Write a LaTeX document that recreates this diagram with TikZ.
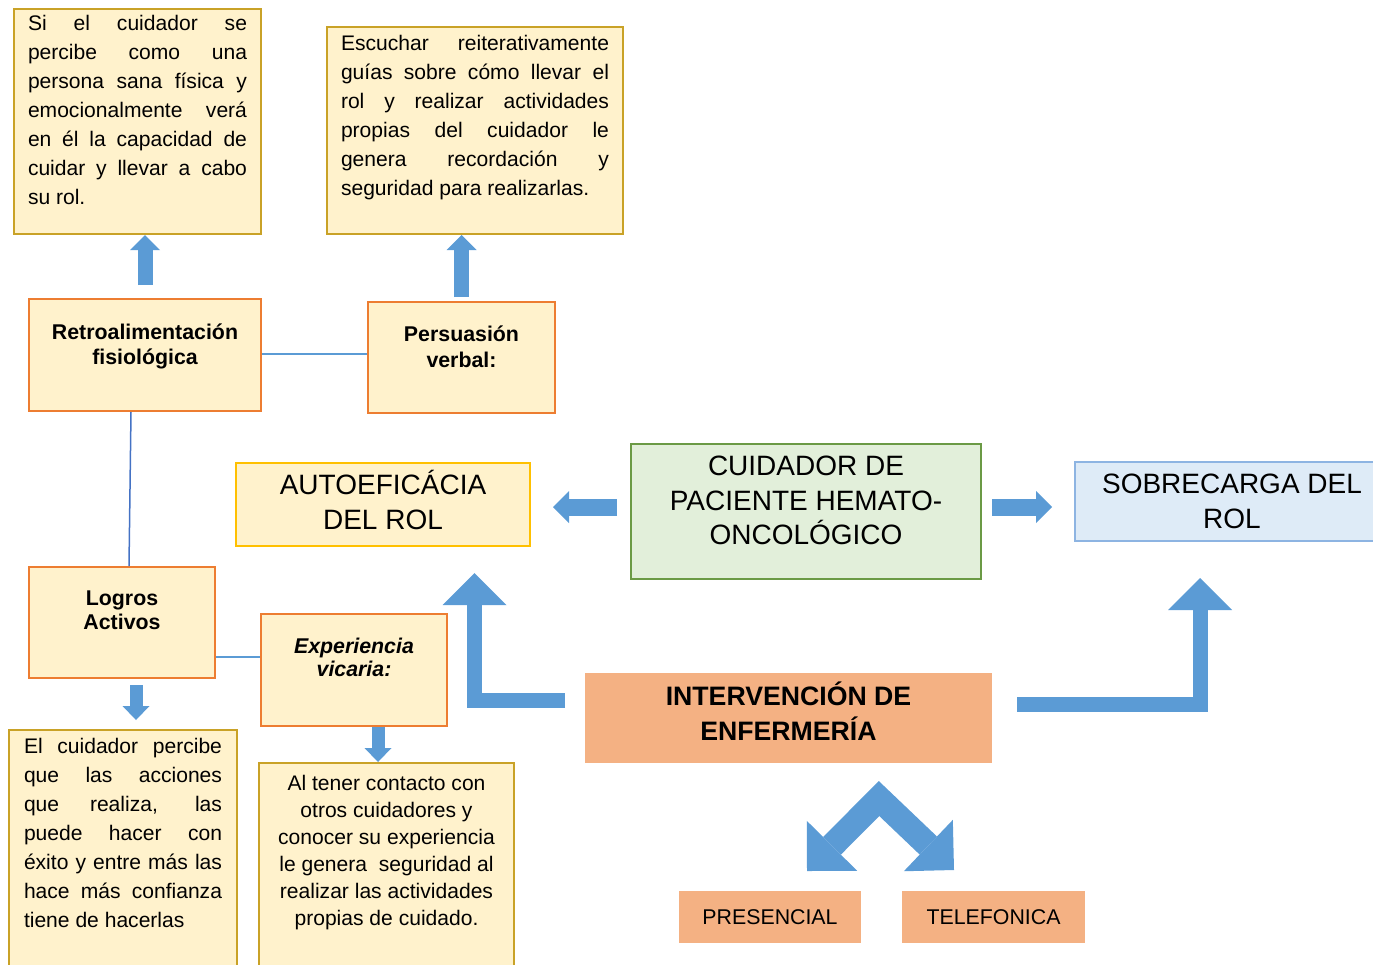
\documentclass[tikz,border=0pt]{standalone}
\usepackage{fontspec}
\setmainfont{Liberation Sans}
\usetikzlibrary{arrows.meta}

\newdimen\pxu \pxu=0.75pt
\hyphenpenalty=10000
\exhyphenpenalty=10000
\hbadness=10000

\definecolor{fondoamarillo}{HTML}{FFF2CC}
\definecolor{bordedorado}{HTML}{C9A227}
\definecolor{bordenaranja}{HTML}{ED7D31}
\definecolor{bordeamarillo}{HTML}{FFC000}
\definecolor{fondoverde}{HTML}{E2EFDA}
\definecolor{bordeverde}{HTML}{6B9A45}
\definecolor{fondoazul}{HTML}{DEEBF7}
\definecolor{bordeazul}{HTML}{8DB4E2}
\definecolor{fondonaranja}{HTML}{F4B183}
\definecolor{flechaazul}{HTML}{5B9BD5}
\definecolor{lineaazul}{HTML}{4472C4}

\newcommand{\caja}[3]{\parbox[t][#2\pxu][t]{#1\pxu}{#3}}
\newcommand{\alto}{\rule{0pt}{30\pxu}}

\tikzset{
  cuadro/.style={anchor=north west, inner sep=0pt, line width=2\pxu, fill=fondoamarillo},
  texto/.style={cuadro, draw=bordedorado, font=\fontsize{15.8}{21.75}\selectfont},
  concepto/.style={cuadro, draw=bordenaranja, font=\bfseries\fontsize{16}{18.75}\selectfont},
  titulo/.style={inner sep=0pt, line width=2\pxu, align=center, font=\fontsize{21}{26.25}\selectfont},
  modalidad/.style={inner sep=0pt, fill=fondonaranja, minimum height=52\pxu, font=\fontsize{16}{19}\selectfont},
  linea/.style={draw=flechaazul, line width=2\pxu},
  flechita/.style={draw=flechaazul, line width=11.25pt, -{Triangle[width=22.5pt, length=11.25pt, line width=0pt]}},
  flechabaja/.style={draw=flechaazul, line width=9.75pt, -{Triangle[width=20.25pt, length=10.5pt, line width=0pt]}},
  flechalado/.style={draw=flechaazul, line width=12.75pt, -{Triangle[width=24pt, length=12pt, line width=0pt]}},
  flechacodo/.style={draw=flechaazul, line width=11.25pt, line join=miter, -{Triangle[width=48pt, length=24pt, line width=0pt]}},
  flechadoble/.style={draw=flechaazul, line width=18.75pt, line join=miter,
    {Triangle[width=53.25pt, length=26.6pt, line width=0pt]}-{Triangle[width=53.25pt, length=26.6pt, line width=0pt]}}
}

\begin{document}
\begin{tikzpicture}[x=0.75pt, y=-0.75pt]
  \useasboundingbox (0,0) rectangle (1373,964);

  % fuentes de autoeficacia
  \node[texto, inner xsep=14\pxu, inner ysep=6\pxu] (percepcion) at (13,8) {\caja{219}{213}{%
    Si el cuidador se\linebreak percibe como una\linebreak persona sana física y\linebreak
    emocionalmente verá\linebreak en él la capacidad de\linebreak cuidar y llevar a cabo\linebreak su rol.}};
  \node[texto, inner xsep=14\pxu, inner ysep=8\pxu] (escuchar) at (326,26) {\caja{268}{191}{%
    Escuchar reiterativamente\linebreak guías sobre cómo llevar el\linebreak rol y realizar actividades\linebreak
    propias del cuidador le\linebreak genera recordación y\linebreak seguridad para realizarlas.}};
  \node[concepto, inner xsep=10\pxu, inner ysep=25\pxu] (retro) at (28,298) {\caja{212}{62}{\centering
    Retroalimentación\\ fisiológica}};
  \node[concepto, inner xsep=10\pxu, inner ysep=24\pxu] (persuasion) at (367,301) {\caja{167}{63}{\centering
    \fontsize{16}{19.5}\selectfont Persuasión\\ verbal:}};
  \node[concepto, inner xsep=10\pxu, inner ysep=24\pxu] (logros) at (28,566) {\caja{166}{63}{\centering
    \fontsize{16}{18}\selectfont Logros\\ Activos}};
  \node[concepto, inner xsep=10\pxu, inner ysep=24\pxu] (experiencia) at (260,613) {\caja{166}{64}{\centering
    \fontsize{16}{17.25}\selectfont\itshape Experiencia\\ vicaria:}};
  \node[texto, inner xsep=15\pxu, inner ysep=8\pxu] (elcuidador) at (8,729) {\caja{198}{230}{%
    El cuidador percibe\linebreak que las acciones\linebreak que realiza, las\linebreak puede hacer con\linebreak
    éxito y entre más las\linebreak hace más confianza\linebreak tiene de hacerlas}};
  \node[texto, inner xsep=12\pxu, inner ysep=12\pxu] (altener) at (258,762) {\caja{231}{201}{\centering
    \fontsize{15.8}{20.25}\selectfont Al tener contacto con\\ otros cuidadores y\\ conocer su experiencia\\
    le genera\ \ seguridad al\\ realizar las actividades\\ propias de cuidado.}};

  % conceptos centrales
  \node[cuadro, draw=bordeamarillo, inner xsep=0pt, inner ysep=1\pxu,
    font=\fontsize{21}{26.25}\selectfont] (autoeficacia) at (235,462) {\caja{294}{81}{\centering
    \alto AUTOEFICÁCIA\\ DEL ROL}};
  \node[cuadro, fill=fondoverde, draw=bordeverde, inner xsep=10\pxu, inner ysep=12\pxu,
    font=\fontsize{21}{25.9}\selectfont] (cuidador) at (630,443) {\caja{330}{111}{\centering
    CUIDADOR DE\\ PACIENTE HEMATO-\\ ONCOLÓGICO}};
  \node[titulo, fill=fondoazul, draw=bordeazul, minimum width=314\pxu, minimum height=79\pxu]
    (sobrecarga) at (1232,501.5) {SOBRECARGA DEL\\ ROL};
  \node[cuadro, fill=fondonaranja, draw=none, inner xsep=0pt, inner ysep=2.5\pxu,
    font=\bfseries\fontsize{20}{26.25}\selectfont] (intervencion) at (584,672) {\caja{407}{85}{\centering
    \alto INTERVENCIÓN DE\\ ENFERMERÍA}};
  \node[modalidad, minimum width=182\pxu] (presencial) at (770,917) {PRESENCIAL};
  \node[modalidad, minimum width=183\pxu] (telefonica) at (993.5,917) {TELEFONICA};

  % lineas entre fuentes
  \draw[linea] (retro.east |- 0,354) -- (persuasion.west |- 0,354);
  \draw[draw=lineaazul, line width=1.5\pxu] ([xshift=-14\pxu]retro.south) -- ([xshift=7\pxu]logros.north);
  \draw[linea] (logros.east |- 0,657) -- (experiencia.west |- 0,657);

  % flechas
  \draw[flechita, shorten <=13\pxu] (retro.north) -- (retro.north |- percepcion.south);
  \draw[flechita, shorten <=4\pxu] (persuasion.north) -- (persuasion.north |- escuchar.south);
  \coordinate (bajalogros) at ([xshift=14\pxu]logros.south);
  \coordinate (bajaexp) at ([xshift=24\pxu]experiencia.south);
  \draw[flechabaja, shorten <=6\pxu, shorten >=9\pxu] (bajalogros) -- (bajalogros |- elcuidador.north);
  \draw[flechabaja] (bajaexp) -- (bajaexp |- altener.north);
  \coordinate (fila) at (0,507);
  \draw[flechalado, shorten <=13\pxu, shorten >=22\pxu] (cuidador.west |- fila) -- (autoeficacia.east |- fila);
  \draw[flechalado, shorten <=10\pxu, shorten >=22\pxu] (cuidador.east |- fila) -- (sobrecarga.west |- fila);
  \coordinate (puntaauto) at (474.5,573);
  \coordinate (puntasobre) at (1200,578);
  \draw[flechacodo, shorten <=19\pxu] (intervencion.west |- 0,700) -| (puntaauto);
  \draw[flechacodo, shorten <=24\pxu] (intervencion.east |- 0,704) -| (puntasobre);
  \coordinate (vertice) at (879,798.5);
  \coordinate (puntapres) at (807,871);
  \coordinate (puntatel) at (954,870);
  \draw[flechadoble] (puntapres) -- (vertice) -- (puntatel);
\end{tikzpicture}
\end{document}
